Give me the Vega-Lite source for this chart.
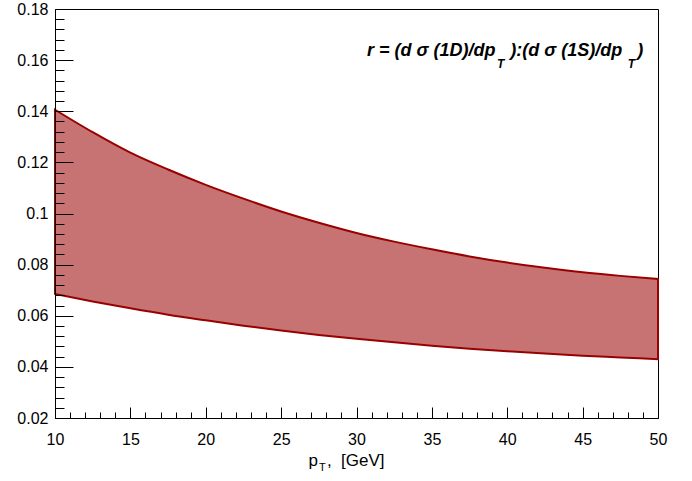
{
  "$schema": "https://vega.github.io/schema/vega-lite/v6.json",
  "width": 603,
  "height": 409,
  "autosize": {"type": "none"},
  "padding": {"left": 55, "top": 9, "right": 34, "bottom": 63},
  "background": "white",
  "config": {
    "view": {"stroke": "black", "strokeWidth": 1},
    "font": "Liberation Sans",
    "axis": {
      "labelFont": "Liberation Sans", "labelFontSize": 16, "labelColor": "black",
      "tickColor": "black", "tickWidth": 1, "domainColor": "black", "domainWidth": 1,
      "grid": false, "titleFont": "Liberation Sans", "titleFontSize": 16,
      "titleFontWeight": "normal", "titleColor": "black"
    }
  },
  "datasets": {
    "band": [
      {"pt": 10, "hi": 0.1406, "lo": 0.0685},
      {"pt": 12.5, "hi": 0.1318, "lo": 0.0656},
      {"pt": 15, "hi": 0.1238, "lo": 0.0629},
      {"pt": 17.5, "hi": 0.1172, "lo": 0.0604},
      {"pt": 20, "hi": 0.1112, "lo": 0.0582},
      {"pt": 22.5, "hi": 0.1058, "lo": 0.0561},
      {"pt": 25, "hi": 0.1008, "lo": 0.0542},
      {"pt": 27.5, "hi": 0.0964, "lo": 0.0525},
      {"pt": 30, "hi": 0.0924, "lo": 0.0510},
      {"pt": 32.5, "hi": 0.0890, "lo": 0.0496},
      {"pt": 35, "hi": 0.0860, "lo": 0.0483},
      {"pt": 37.5, "hi": 0.0832, "lo": 0.0471},
      {"pt": 40, "hi": 0.0808, "lo": 0.0461},
      {"pt": 42.5, "hi": 0.0788, "lo": 0.0452},
      {"pt": 45, "hi": 0.0770, "lo": 0.0444},
      {"pt": 47.5, "hi": 0.0756, "lo": 0.0437},
      {"pt": 50, "hi": 0.0744, "lo": 0.0430}
    ]
  },
  "layer": [
    {
      "data": {"name": "band"},
      "mark": {"type": "area", "interpolate": "monotone", "fill": "#990000", "fillOpacity": 0.55, "stroke": "#990000", "strokeWidth": 2},
      "encoding": {
        "x": {"field": "pt", "type": "quantitative",
          "scale": {"domain": [10, 50], "nice": false, "zero": false},
          "axis": {"orient": "bottom", "values": [10, 15, 20, 25, 30, 35, 40, 45, 50], "tickSize": -11, "labelPadding": 24, "labelFlush": false, "title": null, "zindex": 1}},
        "y": {"field": "hi", "type": "quantitative",
          "scale": {"domain": [0.02, 0.18], "nice": false, "zero": false},
          "axis": {"orient": "left", "values": [0.02, 0.04, 0.06, 0.08, 0.1, 0.12, 0.14, 0.16, 0.18], "format": ".2~f", "tickSize": -18, "labelPadding": 25, "labelFlush": false, "title": null, "zindex": 1}},
        "y2": {"field": "lo"}
      }
    },
    {
      "data": {"name": "band"},
      "mark": {"type": "area", "opacity": 0},
      "encoding": {
        "x": {"field": "pt", "type": "quantitative",
          "axis": {"orient": "bottom", "values": [11,12,13,14,16,17,18,19,21,22,23,24,26,27,28,29,31,32,33,34,36,37,38,39,41,42,43,44,46,47,48,49], "tickSize": -6, "labels": false, "domain": false, "title": null, "zindex": 1}},
        "y": {"field": "hi", "type": "quantitative",
          "axis": {"orient": "left", "values": [0.024,0.028,0.032,0.036,0.044,0.048,0.052,0.056,0.064,0.068,0.072,0.076,0.084,0.088,0.092,0.096,0.104,0.108,0.112,0.116,0.124,0.128,0.132,0.136,0.144,0.148,0.152,0.156,0.164,0.168,0.172,0.176], "tickSize": -9, "labels": false, "domain": false, "title": null, "zindex": 1}},
        "y2": {"field": "lo"}
      }
    },
    {
      "data": {"values": [{}]},
      "mark": {"type": "text", "align": "left", "baseline": "alphabetic", "font": "Liberation Sans", "fontSize": 18, "fontWeight": "bold", "fontStyle": "italic", "color": "black"},
      "encoding": {"x": {"datum": 30.70, "type": "quantitative", "axis": null}, "y": {"datum": 0.1617, "type": "quantitative", "axis": null}, "text": {"value": "r = (d σ (1D)/dp"}}
    },
    {
      "data": {"values": [{}]},
      "mark": {"type": "text", "align": "left", "baseline": "alphabetic", "font": "Liberation Sans", "fontSize": 12, "fontWeight": "bold", "fontStyle": "italic", "color": "black"},
      "encoding": {"x": {"datum": 39.32, "type": "quantitative", "axis": null}, "y": {"datum": 0.157, "type": "quantitative", "axis": null}, "text": {"value": "T"}}
    },
    {
      "data": {"values": [{}]},
      "mark": {"type": "text", "align": "left", "baseline": "alphabetic", "font": "Liberation Sans", "fontSize": 18, "fontWeight": "bold", "fontStyle": "italic", "color": "black"},
      "encoding": {"x": {"datum": 40.2, "type": "quantitative", "axis": null}, "y": {"datum": 0.1617, "type": "quantitative", "axis": null}, "text": {"value": "):(d σ (1S)/dp"}}
    },
    {
      "data": {"values": [{}]},
      "mark": {"type": "text", "align": "left", "baseline": "alphabetic", "font": "Liberation Sans", "fontSize": 12, "fontWeight": "bold", "fontStyle": "italic", "color": "black"},
      "encoding": {"x": {"datum": 48.0, "type": "quantitative", "axis": null}, "y": {"datum": 0.157, "type": "quantitative", "axis": null}, "text": {"value": "T"}}
    },
    {
      "data": {"values": [{}]},
      "mark": {"type": "text", "align": "left", "baseline": "alphabetic", "font": "Liberation Sans", "fontSize": 18, "fontWeight": "bold", "fontStyle": "italic", "color": "black"},
      "encoding": {"x": {"datum": 48.62, "type": "quantitative", "axis": null}, "y": {"datum": 0.1617, "type": "quantitative", "axis": null}, "text": {"value": ")"}}
    },
    {
      "data": {"values": [{}]},
      "mark": {"type": "text", "align": "right", "baseline": "alphabetic", "font": "Liberation Sans", "fontSize": 17, "color": "black"},
      "encoding": {"x": {"datum": 27.45, "type": "quantitative", "axis": null}, "y": {"datum": 0.0012, "type": "quantitative", "axis": null}, "text": {"value": "p"}}
    },
    {
      "data": {"values": [{}]},
      "mark": {"type": "text", "align": "left", "baseline": "alphabetic", "font": "Liberation Sans", "fontSize": 11, "color": "black"},
      "encoding": {"x": {"datum": 27.51, "type": "quantitative", "axis": null}, "y": {"datum": -0.0008, "type": "quantitative", "axis": null}, "text": {"value": "T"}}
    },
    {
      "data": {"values": [{}]},
      "mark": {"type": "text", "align": "left", "baseline": "alphabetic", "font": "Liberation Sans", "fontSize": 17, "color": "black"},
      "encoding": {"x": {"datum": 28.04, "type": "quantitative", "axis": null}, "y": {"datum": 0.0012, "type": "quantitative", "axis": null}, "text": {"value": ",\u00a0\u00a0[GeV]"}}
    }
  ],
  "resolve": {"axis": {"x": "independent", "y": "independent"}}
}
